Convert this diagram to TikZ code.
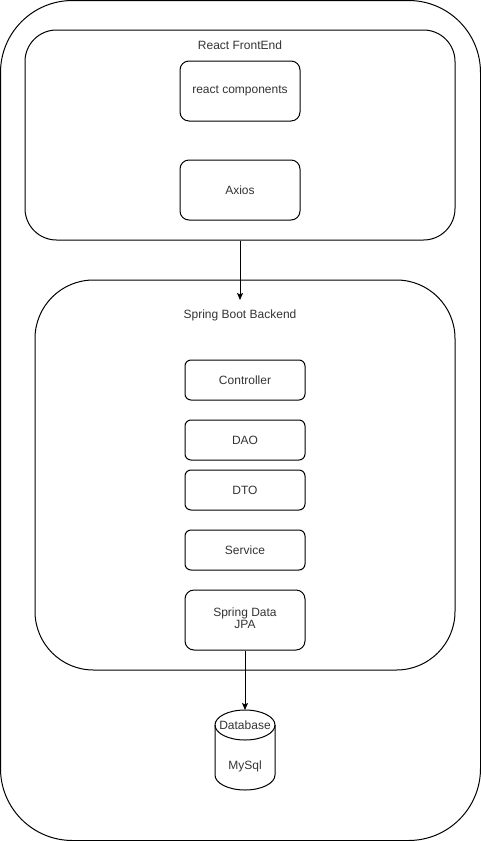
\documentclass[tikz,border=0pt]{standalone}
\usepackage{fontspec}
\setmainfont{Liberation Sans}
\usetikzlibrary{arrows.meta}
\begin{document}
\begin{tikzpicture}[x=1pt,y=-1pt,
  every node/.style={font=\fontsize{12}{14}\selectfont, text=black!80},
  cont/.style={draw, line width=1pt, inner sep=0pt},
  comp/.style={draw, line width=1pt, rounded corners=9pt, minimum width=120pt, minimum height=60pt, inner sep=0pt},
  layer/.style={draw, line width=1pt, rounded corners=6pt, minimum width=120pt, minimum height=40pt, inner sep=0pt},
  lbl/.style={inner sep=0pt},
  conn/.style={line width=1pt, -{Stealth[length=7pt,width=6pt,inset=1.5pt]}}
]
\useasboundingbox (0,0) rectangle (481,841);
\node[cont, rounded corners=72pt, minimum width=480pt, minimum height=840pt] (outer) at (240.5,420.5) {};
\node[cont, rounded corners=31.5pt, minimum width=430pt, minimum height=210pt] (front) at (240,135) {};
\node[lbl] (frontlbl) at (240,45) {React FrontEnd};
\node[comp] (react) at (240,91) {react components};
\node[comp] (axios) at (240,190) {Axios};
\node[cont, rounded corners=58.5pt, minimum width=420pt, minimum height=390pt] (back) at (245,475) {};
\node[lbl] (backlbl) at (240,315) {Spring Boot Backend};
\node[layer] (ctrl) at (245,380) {Controller};
\node[layer] (dao) at (245,440) {DAO};
\node[layer] (dto) at (245,490) {DTO};
\node[layer] (svc) at (245,550) {Service};
\node[comp, rounded corners=9pt] (jpa) at (245,620) {\begin{tabular}{@{}c@{}}Spring Data\\[-2pt] JPA\end{tabular}};
% database cylinder
\draw[line width=1pt] (215,725) arc[start angle=180, end angle=0, x radius=30, y radius=-15]
  arc[start angle=0, end angle=-180, x radius=30, y radius=-15];
\draw[line width=1pt] (215,725) -- (215,775) arc[start angle=180, end angle=360, x radius=30, y radius=-15] -- (275,725);
\coordinate (db) at (245,710);
\node[lbl] (dblbl) at (245,725) {Database};
\node[lbl] (mysql) at (245,766) {MySql};
\coordinate (backin) at (240,300);
\draw[conn] (front.south) -- (backin);
\draw[conn] (jpa.south) -- (db);
\end{tikzpicture}
\end{document}
